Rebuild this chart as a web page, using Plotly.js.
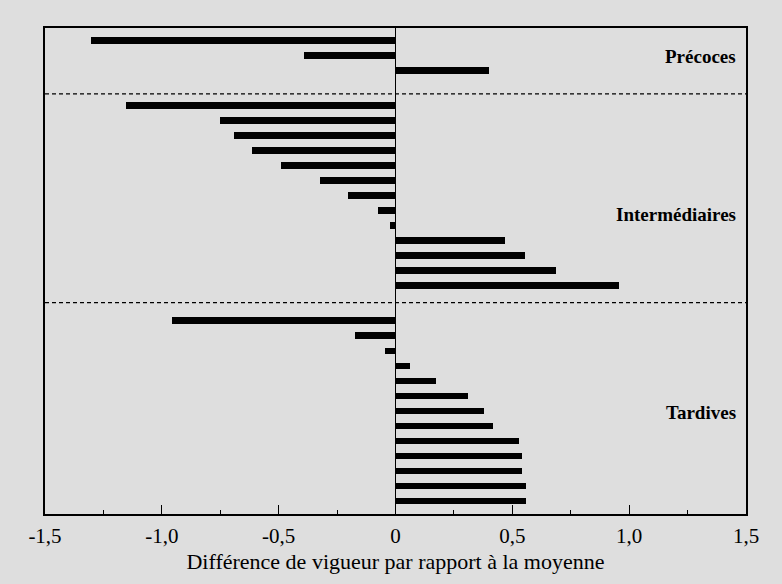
<!DOCTYPE html>
<html>
<head>
<meta charset="utf-8">
<script src="https://cdn.plot.ly/plotly-3.0.1.min.js"></script>
<style>
  html, body { margin: 0; padding: 0; background: #dedede; }
  #chart { width: 782px; height: 584px; }
</style>
</head>
<body>
<div id="chart"></div>
<script>
// ---- Data ----
const groupNames = ["Précoces", "Intermédiaires", "Tardives"];
const precoces = [-1.302, -0.391, 0.400];
const intermediaires = [-1.155, -0.749, -0.692, -0.613, -0.492, -0.321, -0.204, -0.073, -0.024, 0.469, 0.555, 0.688, 0.957];
const tardives = [-0.957, -0.172, -0.044, 0.063, 0.173, 0.310, 0.380, 0.417, 0.529, 0.541, 0.541, 0.559, 0.559];
const tickVals = [-1.5, -1.0, -0.5, 0, 0.5, 1.0, 1.5];
const tickText = ["-1,5", "-1,0", "-0,5", "0", "0,5", "1,0", "1,5"];
const xTitle = "Différence de vigueur par rapport à la moyenne";

// ---- Layout helpers (row positions of each group on the vertical axis) ----
const groupStart = [0.85, 5.15, 19.5];
const separators = [4.39, 18.29];
const labelRow = [1.9, 12.43, 25.6];
const series = [precoces, intermediaires, tardives];

const traces = series.map((vals, g) => ({
  type: "bar",
  orientation: "h",
  x: vals,
  y: vals.map((v, i) => groupStart[g] + i),
  width: 0.44,
  marker: { color: "#000000", line: { width: 0 } },
  name: groupNames[g],
  showlegend: false,
  hoverinfo: "x"
}));

const shapes = separators.map(s => ({
  type: "line", xref: "paper", yref: "y",
  x0: 0, x1: 1, y0: s, y1: s,
  line: { color: "#000", width: 1.3, dash: "4px,3px" }
}));

const annotations = groupNames.map((n, g) => ({
  text: "<b>" + n + "</b>",
  xref: "paper", yref: "y",
  x: 1, y: labelRow[g],
  xanchor: "right", yanchor: "middle",
  xshift: -8,
  showarrow: false,
  font: { family: "Liberation Serif, Times New Roman, serif", size: 19, color: "#000" }
}));

const layout = {
  width: 782, height: 584,
  margin: { l: 45, r: 36, t: 28, b: 70 },
  paper_bgcolor: "#dedede",
  plot_bgcolor: "#dedede",
  font: { family: "Liberation Serif, Times New Roman, serif", color: "#000" },
  bargap: 0,
  xaxis: {
    range: [-1.5, 1.5],
    tickvals: tickVals,
    ticktext: tickText,
    ticks: "inside",
    ticklen: 9,
    tickwidth: 1.2,
    tickcolor: "#000",
    ticklabelstandoff: 2,
    minor: { dtick: 0.25, tick0: 0, ticks: "inside", ticklen: 4, tickwidth: 1, tickcolor: "#000", showgrid: false },
    showgrid: false,
    zeroline: true,
    zerolinecolor: "#000",
    zerolinewidth: 1.6,
    showline: true,
    mirror: true,
    linecolor: "#000",
    linewidth: 1.6,
    tickfont: { size: 21, color: "#000" },
    title: { text: xTitle, font: { size: 22, color: "#000" }, standoff: 7 },
    fixedrange: true
  },
  yaxis: {
    range: [32.37, 0],
    showticklabels: false,
    ticks: "",
    showgrid: false,
    zeroline: false,
    showline: true,
    mirror: true,
    linecolor: "#000",
    linewidth: 1.6,
    fixedrange: true
  },
  shapes: shapes,
  annotations: annotations
};

Plotly.newPlot("chart", traces, layout, { displayModeBar: false, staticPlot: true });
</script>
</body>
</html>
